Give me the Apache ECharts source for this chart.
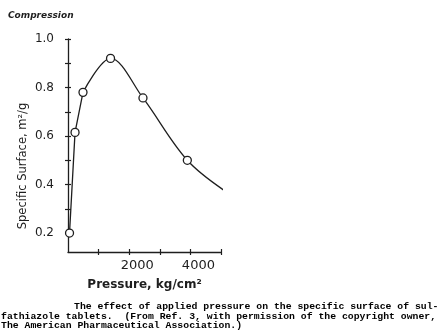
<!DOCTYPE html>
<html>
<head>
<meta charset="utf-8">
<script src="https://cdn.jsdelivr.net/npm/echarts@6/dist/echarts.min.js"></script>
<style>
  html, body { margin: 0; padding: 0; background: #fff; }
  #chart { width: 441px; height: 331px; }
</style>
</head>
<body>
<div id="chart"></div>
<script>
  // measured points (pressure kg/cm2, specific surface m2/g)
  var pressure = [50, 230, 490, 1390, 2450, 3900]
  var surface = [0.20, 0.615, 0.78, 0.92, 0.757, 0.50]
  // the drawn curve runs on past the last point
  var curveEndPressure = [5230]
  var curveEndSurface = [0.365]

  var yTickValues = [0.2, 0.3, 0.4, 0.5, 0.6, 0.7, 0.8, 0.9, 1.0]
  var yLabelValues = [0.2, 0.4, 0.6, 0.8, 1.0]
  var xTickValues = [1000, 2000, 3000, 4000, 5000]
  var xLabelValues = [2000, 4000]

  var captionLines = [
    'The effect of applied pressure on the specific surface of sul-',
    'fathiazole tablets.  (From Ref. 3, with permission of the copyright owner,',
    'The American Pharmaceutical Association.)'
  ]

  var ink = '#1e1e1e'

  var points = pressure.map(function (p, i) { return [p, surface[i]] })
  var tail = curveEndPressure.map(function (p, i) { return [p, curveEndSurface[i]] })
  // steep straight rise through the first three points, then a smooth arch
  var rise = points.slice(0, 3)
  var arch = points.slice(2).concat(tail)

  var chart = echarts.init(document.getElementById('chart'), null, { renderer: 'canvas' })

  var yBase = {
    type: 'value',
    min: 0.122,
    max: 1.0,
    splitLine: { show: false }
  }
  var xBase = {
    type: 'value',
    min: 0,
    max: 5000,
    splitLine: { show: false }
  }
  var lineBase = {
    type: 'line',
    symbol: 'none',
    clip: false,
    lineStyle: { color: ink, width: 1.3 },
    z: 2
  }

  chart.setOption({
    backgroundColor: '#fff',
    animation: false,
    grid: { left: 68, right: 220, top: 39, bottom: 79 },
    xAxis: [
      Object.assign({}, xBase, {
        position: 'bottom',
        name: 'Pressure, kg/cm²',
        nameLocation: 'middle',
        nameGap: 27,
        nameTextStyle: { fontFamily: 'DejaVu Sans', fontWeight: 'bold', fontSize: 12, color: ink },
        axisLine: { lineStyle: { color: ink, width: 1.3 } },
        axisTick: { customValues: xTickValues, length: 3, lineStyle: { color: ink, width: 1.2 } },
        axisLabel: {
          customValues: xLabelValues,
          margin: 7,
          padding: [0, 0, 0, 16],
          formatter: function (v) { return String(v) },
          fontFamily: 'DejaVu Sans', fontSize: 13, color: ink
        }
      }),
      Object.assign({}, xBase, {
        position: 'bottom',
        axisLine: { show: false },
        axisTick: { customValues: xTickValues, inside: true, length: 3, lineStyle: { color: ink, width: 1.2 } },
        axisLabel: { show: false }
      })
    ],
    yAxis: [
      Object.assign({}, yBase, {
        position: 'left',
        axisLine: { lineStyle: { color: ink, width: 1.3 } },
        axisTick: { customValues: yTickValues, length: 3, lineStyle: { color: ink, width: 1.2 } },
        axisLabel: {
          customValues: yLabelValues,
          margin: 14,
          formatter: function (v) { return v.toFixed(1) },
          fontFamily: 'DejaVu Sans', fontSize: 12, color: ink
        }
      }),
      Object.assign({}, yBase, {
        position: 'left',
        axisLine: { show: false },
        axisTick: { customValues: yTickValues, inside: true, length: 3, lineStyle: { color: ink, width: 1.2 } },
        axisLabel: { show: false }
      })
    ],
    graphic: [
      {
        type: 'text', left: 8, top: 11,
        style: { text: 'Compression', font: 'italic bold 9px "DejaVu Sans"', fill: ink }
      },
      {
        type: 'text', x: 23, y: 166, rotation: Math.PI / 2,
        style: {
          text: 'Specific Surface, m²/g', font: '11.5px "DejaVu Sans"', fill: ink,
          align: 'center', verticalAlign: 'middle'
        }
      },
      {
        type: 'text', x: 74, y: 307,
        style: { text: captionLines[0], font: 'bold 9.8px "Liberation Mono"', fill: '#000', verticalAlign: 'middle' }
      },
      {
        type: 'text', x: 1, y: 317,
        style: { text: captionLines[1], font: 'bold 9.8px "Liberation Mono"', fill: '#000', verticalAlign: 'middle' }
      },
      {
        type: 'text', x: 1, y: 326,
        style: { text: captionLines[2], font: 'bold 9.8px "Liberation Mono"', fill: '#000', verticalAlign: 'middle' }
      }
    ],
    series: [
      Object.assign({}, lineBase, { data: rise, smooth: false }),
      Object.assign({}, lineBase, { data: arch, smooth: 0.35 }),
      {
        type: 'scatter',
        data: points,
        symbol: 'circle',
        symbolSize: 8,
        itemStyle: { color: '#fff', borderColor: ink, borderWidth: 1.3, opacity: 1 },
        z: 3
      }
    ]
  })
</script>
</body>
</html>
